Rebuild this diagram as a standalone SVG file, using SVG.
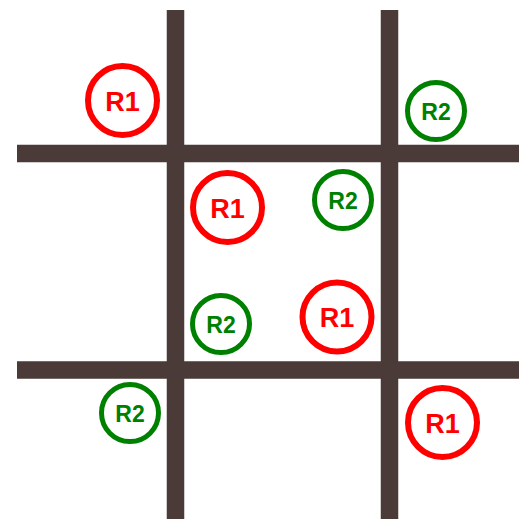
<svg xmlns="http://www.w3.org/2000/svg" width="519" height="519" viewBox="0 0 519 519">
<style>
.wall{stroke:#4a3a38;stroke-width:17.5;fill:none}
.r1 circle{fill:#fff;stroke:#ff0000;stroke-width:6}
.r2 circle{fill:#fff;stroke:#008000;stroke-width:5}
.r1 text{fill:#ff0000;font-family:"Liberation Sans",Arial,sans-serif;font-weight:bold;font-size:27px;text-anchor:middle;dominant-baseline:central}
.r2 text{fill:#008000;font-family:"Liberation Sans",Arial,sans-serif;font-weight:bold;font-size:23px;text-anchor:middle;dominant-baseline:central}
</style>
<rect width="519" height="519" fill="#fff"/>
<g id="connectors">
<line class="wall" x1="175.5" y1="10" x2="175.5" y2="519"/>
<line class="wall" x1="389.5" y1="10" x2="389.5" y2="519"/>
<line class="wall" x1="17" y1="153.5" x2="519" y2="153.5"/>
<line class="wall" x1="17" y1="370" x2="519" y2="370"/>
</g>
<g id="n1" class="r1"><circle cx="122.5" cy="100.5" r="34.5"/><text x="122.5" y="101.5">R1</text></g>
<g id="n2" class="r2"><circle cx="436" cy="111" r="28.5"/><text x="436" y="112">R2</text></g>
<g id="n3" class="r1"><circle cx="227.5" cy="207.5" r="34.5"/><text x="227.5" y="208.5">R1</text></g>
<g id="n4" class="r2"><circle cx="343" cy="200" r="28.5"/><text x="343" y="201">R2</text></g>
<g id="n5" class="r2"><circle cx="221" cy="324" r="28.5"/><text x="221" y="325">R2</text></g>
<g id="n6" class="r1"><circle cx="337" cy="317" r="34.5"/><text x="337" y="318">R1</text></g>
<g id="n7" class="r2"><circle cx="130" cy="413" r="28.5"/><text x="130" y="414">R2</text></g>
<g id="n8" class="r1"><circle cx="442.5" cy="422.5" r="34.5"/><text x="442.5" y="423.5">R1</text></g>
</svg>
